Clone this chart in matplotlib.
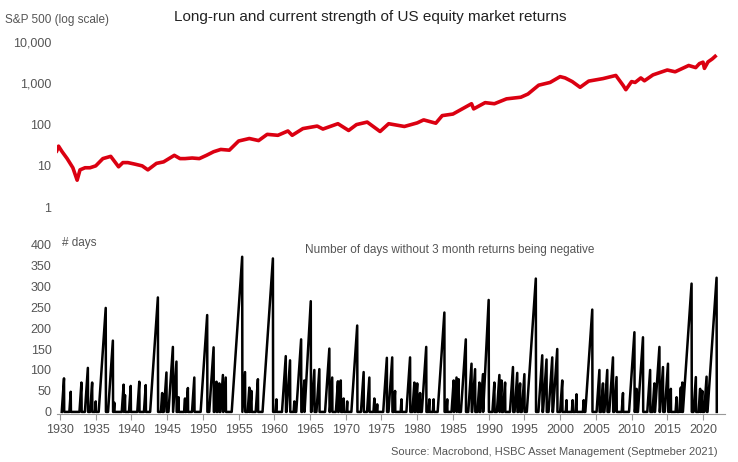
import numpy as np
import matplotlib
matplotlib.use("Agg")
from matplotlib import pyplot as plt
from matplotlib.ticker import FixedLocator, FuncFormatter

# S&P 500 level
spx_year = [1929.0, 1929.5, 1929.8, 1930.3, 1931.0, 1931.8, 1932.4, 1932.8, 1933.5, 1934.2, 1935.0,
            1936.0, 1937.1, 1938.2, 1938.8, 1939.5, 1940.5, 1941.5, 1942.3, 1943.5, 1944.5, 1946.0,
            1946.8, 1947.5, 1948.5, 1949.5, 1950.5, 1951.5, 1952.5, 1953.7, 1955.0, 1956.5, 1957.8,
            1959.0, 1960.5, 1961.9, 1962.5, 1964.0, 1966.0, 1966.8, 1968.9, 1970.4, 1971.5, 1973.0,
            1974.8, 1976.0, 1978.2, 1980.0, 1980.9, 1982.6, 1983.5, 1985.0, 1987.6, 1987.9, 1989.5,
            1990.8, 1992.5, 1994.5, 1995.5, 1997.0, 1998.6, 2000.0, 2000.7, 2001.7, 2002.8, 2004.0,
            2006.0, 2007.8, 2008.8, 2009.2, 2010.0, 2010.5, 2011.3, 2011.8, 2013.0, 2015.0, 2016.1,
            2018.0, 2018.98, 2019.5, 2020.0, 2020.2, 2020.7, 2021.3, 2021.7]
spx_level = [25, 22, 30, 22, 15, 9, 4.5, 8, 9, 9, 10,
             15, 17, 9.5, 12, 12, 11, 10, 8, 11.5, 12.5, 18,
             15, 15, 15.5, 15, 18, 22, 25, 24, 40, 46, 41,
             58, 55, 70, 55, 80, 92, 78, 105, 72, 100, 115,
             68, 105, 90, 110, 130, 108, 165, 180, 320, 240, 340,
             320, 420, 460, 550, 900, 1050, 1450, 1350, 1100, 800, 1130,
             1300, 1550, 900, 700, 1100, 1050, 1350, 1150, 1600, 2100, 1900,
             2700, 2400, 3000, 3250, 2300, 3300, 3900, 4500]

# peaks of the "# days" counter: year of peak and number of days
peak_year = [1930.56, 1931.5, 1933.0, 1933.9, 1934.5, 1935.0, 1936.4, 1937.4, 1937.6, 1938.9, 1939.1,
             1939.9, 1941.1, 1942.0, 1943.7, 1944.3, 1944.9, 1945.8, 1946.3, 1946.6, 1947.5, 1947.9,
             1948.8, 1950.6, 1951.5, 1951.9, 1952.3, 1952.8, 1953.2, 1955.5, 1955.9, 1956.5, 1956.8,
             1957.7, 1959.8, 1960.3, 1961.6, 1962.2, 1962.8, 1963.75, 1964.2, 1965.1, 1965.6, 1966.3,
             1967.7, 1968.1, 1968.9, 1969.3, 1969.7, 1970.2, 1971.6, 1972.5, 1973.3, 1974.0, 1974.4,
             1975.75, 1976.5, 1976.9, 1977.8, 1979.0, 1979.6, 1980.0, 1980.4, 1981.26, 1981.7, 1982.3,
             1983.8, 1984.2, 1985.1, 1985.5, 1985.8, 1986.8, 1987.6, 1988.1, 1988.7, 1989.2, 1990.0,
             1990.8, 1991.5, 1991.8, 1992.3, 1993.4, 1994.0, 1994.4, 1995.0, 1996.6, 1997.5, 1998.1,
             1998.9, 1999.6, 2000.3, 2000.9, 2001.75, 2002.3, 2003.3, 2004.5, 2005.5, 2006.0, 2006.6,
             2007.4, 2007.9, 2008.8, 2010.4, 2010.7, 2011.6, 2012.6, 2013.2, 2013.9, 2014.4, 2015.1,
             2015.5, 2016.3, 2016.9, 2017.1, 2018.4, 2019.0, 2019.6, 2019.9, 2020.5, 2021.9]
peak_days = [80, 48, 70, 105, 70, 25, 248, 170, 22, 65, 40,
             62, 72, 64, 273, 45, 94, 155, 120, 35, 32, 57,
             82, 231, 154, 72, 68, 88, 82, 370, 95, 58, 50,
             78, 366, 30, 133, 123, 25, 173, 75, 264, 100, 102,
             151, 82, 73, 75, 32, 25, 206, 95, 82, 32, 18,
             129, 130, 50, 30, 130, 70, 68, 45, 155, 30, 30,
             237, 30, 75, 82, 78, 173, 115, 102, 70, 90, 267,
             70, 88, 75, 70, 107, 93, 68, 90, 318, 135, 125,
             130, 150, 75, 28, 28, 42, 28, 244, 100, 68, 100,
             130, 83, 45, 190, 55, 178, 100, 68, 155, 107, 115,
             55, 35, 58, 70, 306, 83, 55, 50, 84, 320]

# build sawtooth: counter climbs ~252 trading days per year, resets to 0
xs, ys = [], []
prev_end = 1929.6
for yr, d in zip(peak_year, peak_days):
    start = max(yr - d / 252.0, prev_end)
    xs += [start, yr, yr + 0.03]
    ys += [0, d, 0]
    prev_end = yr + 0.03

W, H = 738, 462
fig = plt.figure(figsize=(W / 100, H / 100), dpi=100)
grey = "#555555"
plt.rcParams["font.family"] = "Liberation Sans"

def frac(left, top, right, bottom):
    return [left / W, 1 - bottom / H, (right - left) / W, (bottom - top) / H]

xlim = (1930 - 3 / 7.144, 2020 + 22 / 7.144)

ax1 = fig.add_axes(frac(57, 35, 725, 215))
ax1.plot(spx_year, spx_level, color="#db0011", lw=2.6)
ax1.set_yscale("log")
ax1.set_ylim(10 ** -0.19, 10 ** 4.17)
ax1.set_xlim(*xlim)
ax1.yaxis.set_major_locator(FixedLocator([1, 10, 100, 1000, 10000]))
ax1.yaxis.set_minor_locator(FixedLocator([]))
ax1.yaxis.set_major_formatter(FuncFormatter(lambda v, p: f"{int(v):,}"))
ax1.tick_params(axis="y", length=0, labelsize=9, colors=grey, pad=4)
ax1.set_xticks([])
for s in ax1.spines.values():
    s.set_visible(False)

ax2 = fig.add_axes(frac(57, 240, 725, 414))
ax2.plot(xs, ys, color="black", lw=1.8)
ax2.set_ylim(-5, 410)
ax2.set_xlim(*xlim)
ax2.set_yticks(range(0, 401, 50))
ax2.set_xticks(range(1930, 2021, 5))
ax2.tick_params(axis="y", length=0, labelsize=9, colors=grey, pad=4)
ax2.tick_params(axis="x", length=4, labelsize=9, colors=grey, color="#999999", direction="out")
for s in ["top", "right", "left"]:
    ax2.spines[s].set_visible(False)
ax2.spines["bottom"].set_color("#999999")
ax2.spines["bottom"].set_position(("data", -5))

fig.text(370 / W, 1 - 17 / H, "Long-run and current strength of US equity market returns",
         ha="center", va="center", fontsize=11, color="#222222")
fig.text(5 / W, 1 - 20 / H, "S&P 500 (log scale)", ha="left", va="center", fontsize=8.5, color=grey)
fig.text(62 / W, 1 - 243 / H, "# days", ha="left", va="center", fontsize=8.5, color=grey)
fig.text(305 / W, 1 - 250 / H, "Number of days without 3 month returns being negative",
         ha="left", va="center", fontsize=8.5, color=grey)
fig.text(718 / W, 1 - 452 / H, "Source: Macrobond, HSBC Asset Management (Septmeber 2021)",
         ha="right", va="center", fontsize=8, color=grey)

fig.savefig("out.png", dpi=100)
